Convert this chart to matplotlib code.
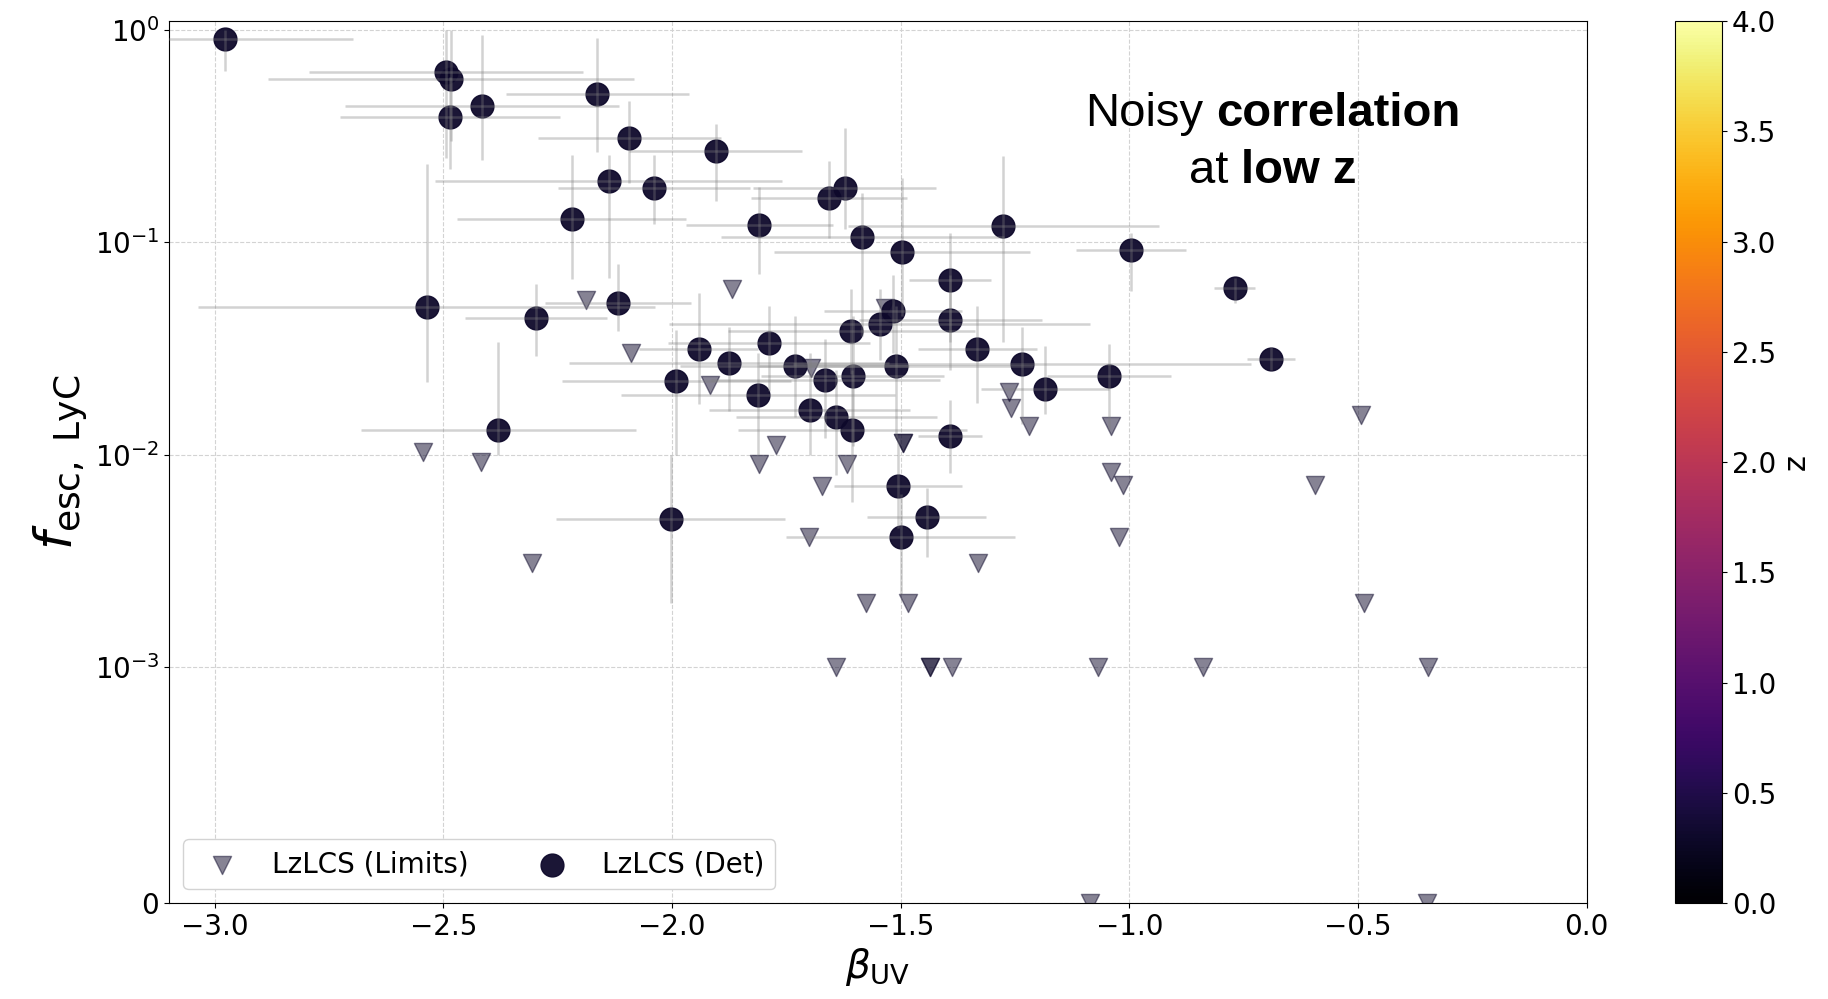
import numpy as np
import matplotlib
matplotlib.use('Agg')
import matplotlib.pyplot as plt
from matplotlib import colors
from matplotlib.cm import ScalarMappable
from matplotlib.ticker import NullLocator
from matplotlib.offsetbox import TextArea, HPacker, VPacker, AnnotationBbox

# LzLCS detections: beta_UV, f_esc, beta error, f_esc lower / upper bound
det_beta = np.array([-2.977, -2.494, -2.484, -2.486, -2.416, -2.164, -2.094, -1.905, -2.139, -2.039,
                     -2.220, -1.809, -1.657, -1.623, -1.584, -1.498, -1.276, -0.996, -1.392, -2.537,
                     -2.119, -2.297, -1.517, -1.546, -1.392, -1.608, -1.333, -0.770, -0.690, -1.942,
                     -1.788, -1.876, -1.732, -1.511, -1.235, -1.991, -1.665, -1.605, -1.045, -1.184,
                     -1.812, -1.699, -1.641, -1.606, -2.380, -1.393, -1.506, -2.003, -1.443, -1.500])
det_fesc = np.array([0.90, 0.635, 0.588, 0.388, 0.44, 0.496, 0.309, 0.268, 0.194, 0.180,
                     0.129, 0.121, 0.162, 0.179, 0.106, 0.0904, 0.119, 0.0923, 0.0664, 0.0497,
                     0.052, 0.0441, 0.0476, 0.0412, 0.0431, 0.0383, 0.0314, 0.0607, 0.0283, 0.0314,
                     0.0335, 0.0270, 0.0260, 0.0262, 0.0266, 0.0223, 0.0225, 0.0234, 0.0234, 0.0203,
                     0.0190, 0.0163, 0.0150, 0.0130, 0.0131, 0.0122, 0.0071, 0.0050, 0.0051, 0.0041])
det_beta_err = np.array([0.28, 0.30, 0.40, 0.24, 0.30, 0.20, 0.20, 0.19, 0.38, 0.21,
                         0.25, 0.16, 0.17, 0.20, 0.31, 0.28, 0.34, 0.12, 0.09, 0.50,
                         0.16, 0.155, 0.15, 0.46, 0.20, 0.27, 0.13, 0.045, 0.053, 0.13,
                         0.22, 0.35, 0.25, 0.30, 0.50, 0.25, 0.25, 0.20, 0.135, 0.14,
                         0.30, 0.22, 0.22, 0.25, 0.30, 0.07, 0.14, 0.25, 0.13, 0.25])
det_fesc_lo = np.array([0.64, 0.25, 0.30, 0.22, 0.244, 0.267, 0.19, 0.157, 0.068, 0.122,
                        0.067, 0.071, 0.105, 0.116, 0.036, 0.045, 0.034, 0.059, 0.034, 0.022,
                        0.038, 0.029, 0.030, 0.028, 0.025, 0.024, 0.0175, 0.052, 0.025, 0.0174,
                        0.020, 0.016, 0.015, 0.012, 0.014, 0.010, 0.012, 0.011, 0.013, 0.0155,
                        0.010, 0.010, 0.008, 0.006, 0.010, 0.0082, 0.0045, 0.002, 0.0033, 0.0022])
det_fesc_hi = np.array([1.0, 1.0, 1.0, 0.60, 0.94, 0.91, 0.46, 0.36, 0.256, 0.256,
                        0.256, 0.182, 0.24, 0.343, 0.17, 0.20, 0.255, 0.111, 0.11, 0.233,
                        0.079, 0.0635, 0.07, 0.06, 0.07, 0.06, 0.05, 0.068, 0.032, 0.0575,
                        0.05, 0.04, 0.045, 0.05, 0.04, 0.0385, 0.035, 0.045, 0.033, 0.0324,
                        0.03, 0.03, 0.025, 0.025, 0.034, 0.018, 0.012, 0.01, 0.007, 0.0065])

# LzLCS upper limits
lim_beta = np.array([-2.189, -1.869, -2.091, -1.918, -1.696, -1.534, -1.263, -1.258, -1.220, -1.041,
                     -1.772, -1.809, -1.617, -1.496, -1.496, -1.672, -1.040, -1.013, -2.545, -2.418,
                     -0.493, -0.595, -1.701, -1.023, -1.332, -2.306, -1.576, -1.484, -0.487, -1.642,
                     -1.435, -1.435, -1.388, -1.069, -0.838, -0.347, -1.087, -0.349])
lim_fesc = np.array([0.0535, 0.060, 0.0302, 0.0212, 0.0255, 0.049, 0.0198, 0.0166, 0.0136, 0.0136,
                     0.0111, 0.0090, 0.0090, 0.0113, 0.0113, 0.0071, 0.0083, 0.0072, 0.0103, 0.0092,
                     0.0153, 0.0072, 0.0041, 0.0041, 0.0031, 0.0031, 0.0020, 0.0020, 0.0020, 0.001,
                     0.001, 0.001, 0.001, 0.001, 0.001, 0.001, 0.0, 0.0])

lzlcs_z = 0.3

fig = plt.figure(figsize=(18.28, 9.99), dpi=100)
ax = fig.add_axes([0.0925, 0.096, 0.7755, 0.883])
cax = fig.add_axes([0.9165, 0.096, 0.0257, 0.883])

norm = colors.Normalize(vmin=0, vmax=4)
cmap = plt.get_cmap('inferno')
col = cmap(norm(lzlcs_z))

yerr = [det_fesc - det_fesc_lo, det_fesc_hi - det_fesc]
ax.errorbar(det_beta, det_fesc, xerr=det_beta_err, yerr=yerr, fmt='none',
            ecolor='gray', alpha=0.35, elinewidth=1.8, zorder=4)
ax.scatter(lim_beta, lim_fesc, marker='v', s=170, color=col, alpha=0.5,
           zorder=2, label='LzLCS (Limits)')
ax.scatter(det_beta, det_fesc, marker='o', s=270, color=col, alpha=0.95,
           zorder=3, label='LzLCS (Det)')

ax.set_yscale('symlog', linthresh=1e-3)
ax.set_ylim(0, 1.1)
ax.set_xlim(-3.1, 0)
ax.yaxis.set_minor_locator(NullLocator())
ax.grid(True, ls='--', color='lightgray', lw=0.8)
ax.set_axisbelow(True)
ax.tick_params(labelsize=20)
ax.set_xlabel(r'$\beta_{\rm UV}$', fontsize=28)
ax.set_ylabel(r'$f_{\rm esc,\ LyC}$', fontsize=37)

ax.legend(loc='lower left', ncol=2, fontsize=20, columnspacing=2.0,
          edgecolor='lightgray', framealpha=1)

# annotation: mixed regular / bold text
tp = dict(fontsize=34, family='Liberation Sans', color='black')
tb = dict(fontsize=34, family='Liberation Sans', color='black', fontweight='bold')
line1 = HPacker(children=[TextArea('Noisy', textprops=tp), TextArea('correlation', textprops=tb)],
                align='baseline', pad=0, sep=9)
line2 = HPacker(children=[TextArea('at', textprops=tp), TextArea('low z', textprops=tb)],
                align='baseline', pad=0, sep=9)
box = VPacker(children=[line1, line2], align='center', pad=0, sep=9)
ab = AnnotationBbox(box, (0.7786, 0.862), xycoords='axes fraction', frameon=False,
                    box_alignment=(0.5, 0.5))
ax.add_artist(ab)

cb = fig.colorbar(ScalarMappable(norm=norm, cmap=cmap), cax=cax)
cb.set_ticks(np.arange(0, 4.01, 0.5))
cb.ax.tick_params(labelsize=20)
cb.set_label('z', fontsize=22)

fig.savefig('out.png', dpi=100)
